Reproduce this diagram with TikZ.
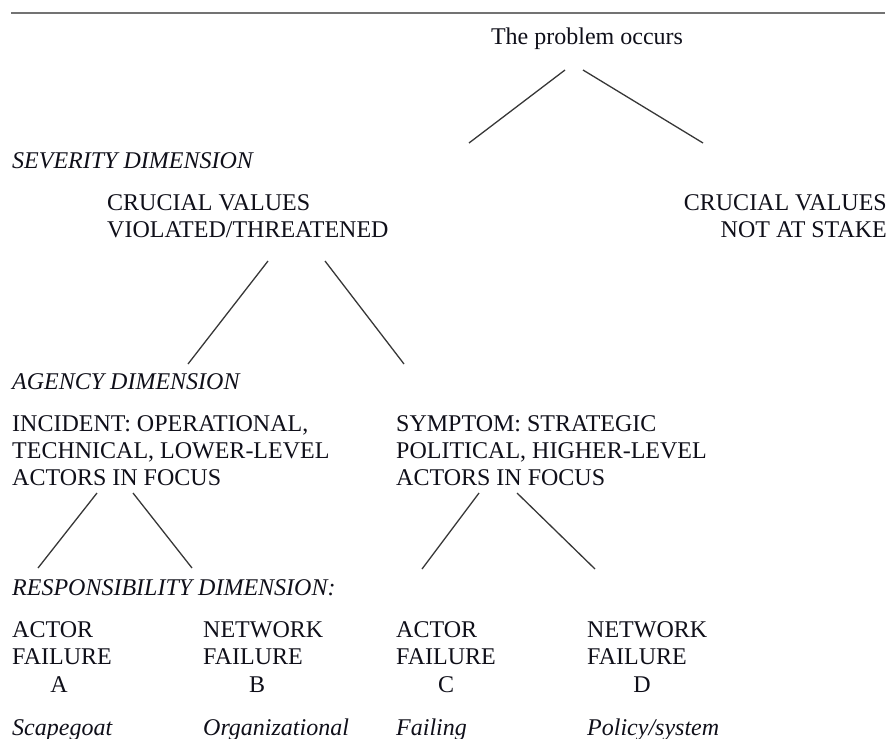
\documentclass[tikz,border=0pt]{standalone}
\usepackage{fontspec}
\setmainfont{Liberation Serif}
\usetikzlibrary{positioning}
\definecolor{textColor}{RGB}{15, 15, 25}
\definecolor{edgeColor}{RGB}{55, 55, 55}
\definecolor{ruleColor}{RGB}{115, 115, 115}
\tikzset{
    tree_text/.style={
        inner sep=0pt,
        anchor=base west,
        align=left,
        text=textColor,
        font=\fontsize{24}{26.8}\selectfont
    },
    dim_text/.style={
        tree_text,
        font=\fontsize{24}{26.8}\selectfont\itshape
    },
    tree_edge/.style={
        draw=edgeColor,
        line width=1.3pt
    },
    top_rule/.style={
        draw=ruleColor,
        line width=2pt
    }
}

\begin{document}
\begin{tikzpicture}[x=1pt, y=-1pt]
    \useasboundingbox (0,0) rectangle (890,738);
    \clip (0,0) rectangle (890,738);

    % rule
    \coordinate (rule_l) at (11,13);
    \coordinate (rule_r) at (885,13);
    \draw[top_rule] (rule_l) -- (rule_r);

    % root
    \node[tree_text, anchor=base] (root) at (587,45) {The problem occurs};

    % severity (multi-line nodes sit on their last baseline)
    \node[dim_text] (severity) at (12,168) {SEVERITY DIMENSION};
    \node[tree_text] (crucial) at (107,237.5) {CRUCIAL VALUES\\VIOLATED/THREATENED};
    \node[tree_text, anchor=base east, align=right] (nostake) at (887,237.5) {CRUCIAL VALUES\\NOT AT STAKE};

    % agency
    \node[dim_text] (agency) at (12,389) {AGENCY DIMENSION};
    \node[tree_text] (incident) at (12,485.5) {INCIDENT: OPERATIONAL,\\TECHNICAL, LOWER-LEVEL\\ACTORS IN FOCUS};
    \node[tree_text] (symptom) at (396,485.5) {SYMPTOM: STRATEGIC\\POLITICAL, HIGHER-LEVEL\\ACTORS IN FOCUS};

    % responsibility
    \node[dim_text] (responsibility) at (12,595) {RESPONSIBILITY DIMENSION:};
    \node[tree_text] (failA) at (12,664.5) {ACTOR\\FAILURE};
    \node[tree_text] (failB) at (203,664.5) {NETWORK\\FAILURE};
    \node[tree_text] (failC) at (396,664.5) {ACTOR\\FAILURE};
    \node[tree_text] (failD) at (587,664.5) {NETWORK\\FAILURE};
    \node[tree_text, anchor=base] (letA) at (59,692) {A};
    \node[tree_text, anchor=base] (letB) at (257,692) {B};
    \node[tree_text, anchor=base] (letC) at (446,692) {C};
    \node[tree_text, anchor=base] (letD) at (642,692) {D};
    \node[dim_text] (typeA) at (12,735.5) {Scapegoat};
    \node[dim_text] (typeB) at (203,735.5) {Organizational};
    \node[dim_text] (typeC) at (396,735.5) {Failing};
    \node[dim_text] (typeD) at (587,735.5) {Policy/system};

    % branch ends
    \coordinate (root_l) at (565,70);
    \coordinate (root_r) at (583,70);
    \coordinate (sev_l) at (469,143);
    \coordinate (sev_r) at (703,143);
    \coordinate (crucial_l) at (268,261);
    \coordinate (crucial_r) at (325,261);
    \coordinate (agency_l) at (188,364);
    \coordinate (agency_r) at (404,364);
    \coordinate (incident_l) at (97,493);
    \coordinate (incident_r) at (133,493);
    \coordinate (respA) at (38,568);
    \coordinate (respB) at (192,568);
    \coordinate (symptom_l) at (479,493);
    \coordinate (symptom_r) at (517,493);
    \coordinate (respC) at (422,569);
    \coordinate (respD) at (595,569);

    \draw[tree_edge]
        (root_l) -- (sev_l)
        (root_r) -- (sev_r)
        (crucial_l) -- (agency_l)
        (crucial_r) -- (agency_r)
        (incident_l) -- (respA)
        (incident_r) -- (respB)
        (symptom_l) -- (respC)
        (symptom_r) -- (respD);
\end{tikzpicture}
\end{document}
